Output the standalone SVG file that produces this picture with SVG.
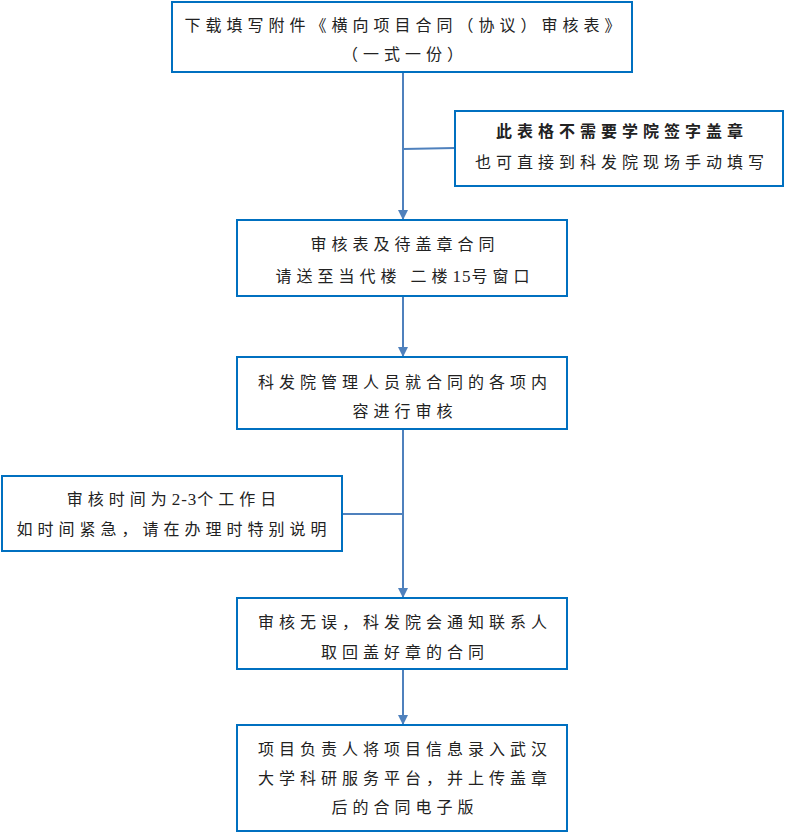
<svg xmlns="http://www.w3.org/2000/svg" width="785" height="834" viewBox="0 0 785 834">
<style>
.box{fill:#fff;stroke:#0070C0;stroke-width:2}
.t{font-family:"Liberation Serif","Noto Sans CJK SC",serif;font-size:16px;fill:#222;text-anchor:middle;letter-spacing:5px}
.b{font-weight:bold}
.n{letter-spacing:1px;font-size:17px}
.c{stroke:#4F81BD;stroke-width:2;fill:none}
</style>
<defs>
<marker id="ah" markerWidth="10" markerHeight="10" refX="9" refY="5" orient="auto" markerUnits="userSpaceOnUse" viewBox="0 0 10 10">
<path d="M0,0 L10,5 L0,10 z" fill="#4F81BD"/>
</marker>
</defs>
<rect width="785" height="834" fill="#fff"/>
<g id="connectors">
<line class="c" x1="403" y1="72" x2="403" y2="219" marker-end="url(#ah)"/>
<line class="c" x1="403" y1="149" x2="455" y2="148"/>
<line class="c" x1="403" y1="296" x2="403" y2="356" marker-end="url(#ah)"/>
<line class="c" x1="403" y1="429" x2="403" y2="597" marker-end="url(#ah)"/>
<line class="c" x1="342" y1="514" x2="403" y2="514"/>
<line class="c" x1="403" y1="669" x2="403" y2="724" marker-end="url(#ah)"/>
</g>
<g id="n1">
<rect class="box" x="172" y="2" width="460" height="70"/>
<text class="t" x="405" y="31">下载填写附件《横向项目合同（协议）审核表》</text>
<text class="t" x="405" y="60">（一式一份）</text>
</g>
<g id="n2">
<rect class="box" x="455" y="111" width="328" height="75"/>
<text class="t b" x="622" y="137">此表格不需要学院签字盖章</text>
<text class="t" x="622" y="168">也可直接到科发院现场手动填写</text>
</g>
<g id="n3">
<rect class="box" x="237" y="220" width="330" height="76"/>
<text class="t" x="405" y="250">审核表及待盖章合同</text>
<text class="t" x="405" y="282">请送至当代楼 二楼<tspan class="n">15</tspan>号窗口</text>
</g>
<g id="n4">
<rect class="box" x="237" y="357" width="330" height="72"/>
<text class="t" x="405" y="388">科发院管理人员就合同的各项内</text>
<text class="t" x="405" y="417">容进行审核</text>
</g>
<g id="n5">
<rect class="box" x="2" y="476" width="340" height="75"/>
<text class="t" x="174" y="505">审核时间为<tspan class="n">2-3</tspan>个工作日</text>
<text class="t" x="174" y="535">如时间紧急，请在办理时特别说明</text>
</g>
<g id="n6">
<rect class="box" x="237" y="598" width="330" height="71"/>
<text class="t" x="405" y="628">审核无误，科发院会通知联系人</text>
<text class="t" x="405" y="658">取回盖好章的合同</text>
</g>
<g id="n7">
<rect class="box" x="237" y="725" width="330" height="106"/>
<text class="t" x="405" y="755">项目负责人将项目信息录入武汉</text>
<text class="t" x="405" y="784">大学科研服务平台，并上传盖章</text>
<text class="t" x="405" y="813">后的合同电子版</text>
</g>
</svg>
